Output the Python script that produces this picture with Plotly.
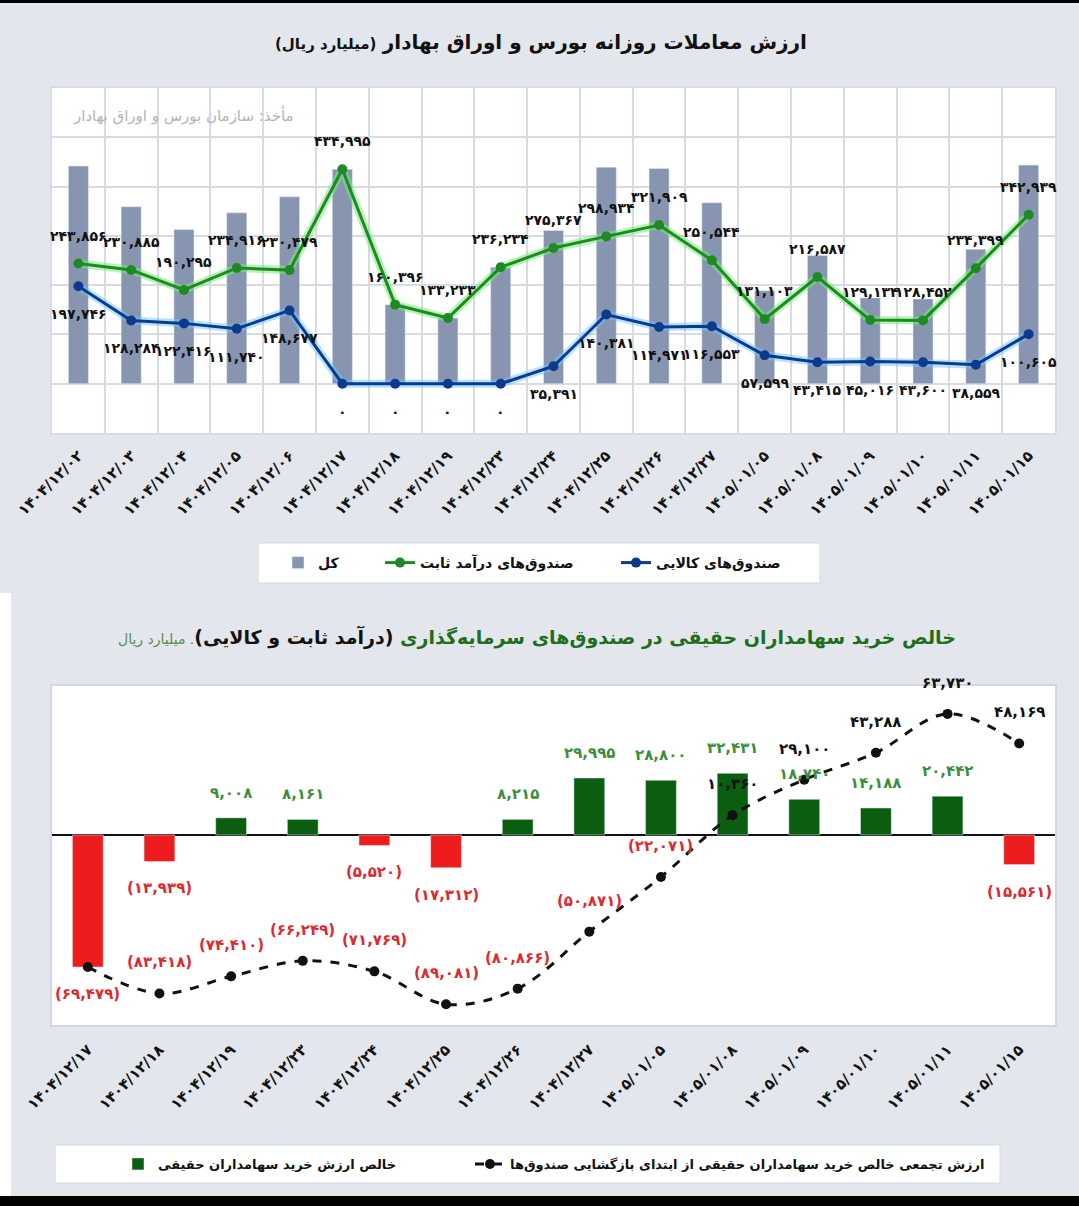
import plotly.graph_objects as go

W, H = 1079, 1206
FONT = "DejaVu Sans"

# ---------------- data: top chart ----------------
dates_top = ["۱۴۰۴/۱۲/۰۲", "۱۴۰۴/۱۲/۰۳", "۱۴۰۴/۱۲/۰۴", "۱۴۰۴/۱۲/۰۵", "۱۴۰۴/۱۲/۰۶",
             "۱۴۰۴/۱۲/۱۷", "۱۴۰۴/۱۲/۱۸", "۱۴۰۴/۱۲/۱۹", "۱۴۰۴/۱۲/۲۳", "۱۴۰۴/۱۲/۲۴",
             "۱۴۰۴/۱۲/۲۵", "۱۴۰۴/۱۲/۲۶", "۱۴۰۴/۱۲/۲۷", "۱۴۰۵/۰۱/۰۵", "۱۴۰۵/۰۱/۰۸",
             "۱۴۰۵/۰۱/۰۹", "۱۴۰۵/۰۱/۱۰", "۱۴۰۵/۰۱/۱۱", "۱۴۰۵/۰۱/۱۵"]
fixed_income = [243856, 230885, 190295, 234916, 230479, 434995, 160396, 133233, 236234, 275367,
                298934, 321909, 250544, 131103, 216587, 129134, 128452, 234399, 342939]
commodity = [197746, 128284, 122416, 111740, 148677, 0, 0, 0, 0, 35391,
             140381, 114971, 116553, 57599, 43415, 45016, 43600, 38559, 100605]
total = [441602, 359169, 312711, 346656, 379156, 434995, 160396, 133233, 236234, 310758,
         439315, 436880, 367097, 188702, 260002, 174150, 172052, 272958, 443544]

# ---------------- data: bottom chart ----------------
dates_bottom = ["۱۴۰۴/۱۲/۱۷", "۱۴۰۴/۱۲/۱۸", "۱۴۰۴/۱۲/۱۹", "۱۴۰۴/۱۲/۲۳", "۱۴۰۴/۱۲/۲۴",
                "۱۴۰۴/۱۲/۲۵", "۱۴۰۴/۱۲/۲۶", "۱۴۰۴/۱۲/۲۷", "۱۴۰۵/۰۱/۰۵", "۱۴۰۵/۰۱/۰۸",
                "۱۴۰۵/۰۱/۰۹", "۱۴۰۵/۰۱/۱۰", "۱۴۰۵/۰۱/۱۱", "۱۴۰۵/۰۱/۱۵"]
net_buy = [-69479, -13939, 9008, 8161, -5520, -17312, 8215, 29995, 28800, 32431,
           18740, 14188, 20442, -15561]
cumulative = [-69479, -83418, -74410, -66249, -71769, -89081, -80866, -50871, -22071, 10360,
              29100, 43288, 63730, 48169]

title_top = "ارزش معاملات روزانه بورس و اوراق بهادار"
title_top_unit = "(میلیارد ریال)"
source_text = "مأخذ: سازمان بورس و اوراق بهادار"
name_total = "کل"
name_fixed = "صندوق‌های درآمد ثابت"
name_comm = "صندوق‌های کالایی"
title_bot_a = "خالص خرید سهامداران حقیقی در صندوق‌های سرمایه‌گذاری"
title_bot_b = "(درآمد ثابت و کالایی)"
title_bot_c = ". میلیارد ریال"
name_net = "خالص ارزش خرید سهامداران حقیقی"
name_cum = "ارزش تجمعی خالص خرید سهامداران حقیقی از ابتدای بازگشایی صندوق‌ها"

fa = str.maketrans("0123456789", "۰۱۲۳۴۵۶۷۸۹")


def fmt(v):
    s = f"{abs(v):,}".translate(fa)
    return f"({s})" if v < 0 else s


def px_y(p):
    return 1 - p / H


def px_x(p):
    return p / W


GREEN = "#1f8a24"
BLUE = "#0d3a8c"
BARC = "#8795b0"
GRID = "#d8dbe1"

fig = go.Figure()

# ---- top chart traces ----
fig.add_trace(go.Bar(x=dates_top, y=total, name=name_total, marker_color=BARC, width=0.38,
                     xaxis="x", yaxis="y", legend="legend"))
fig.add_trace(go.Scatter(x=dates_top, y=fixed_income, mode="lines", showlegend=False,
                         line=dict(color="rgba(120,235,120,0.55)", width=8), hoverinfo="skip",
                         xaxis="x", yaxis="y"))
fig.add_trace(go.Scatter(x=dates_top, y=commodity, mode="lines", showlegend=False,
                         line=dict(color="rgba(110,200,255,0.5)", width=8), hoverinfo="skip",
                         xaxis="x", yaxis="y"))
fig.add_trace(go.Scatter(x=dates_top, y=fixed_income, mode="lines+markers", name=name_fixed,
                         line=dict(color=GREEN, width=3), marker=dict(color=GREEN, size=10),
                         xaxis="x", yaxis="y", legend="legend3"))
fig.add_trace(go.Scatter(x=dates_top, y=commodity, mode="lines+markers", name=name_comm,
                         line=dict(color=BLUE, width=3), marker=dict(color=BLUE, size=10),
                         xaxis="x", yaxis="y", legend="legend4"))

# ---- bottom chart traces ----
fig.add_trace(go.Bar(x=dates_bottom, y=[v if v > 0 else None for v in net_buy], name=name_net,
                     marker_color="#0b5e10", width=0.43, xaxis="x2", yaxis="y2", legend="legend2"))
fig.add_trace(go.Bar(x=dates_bottom, y=[v if v < 0 else None for v in net_buy], showlegend=False,
                     marker_color="#ee1c1c", width=0.43, xaxis="x2", yaxis="y2"))
fig.add_trace(go.Scatter(x=dates_bottom, y=cumulative, mode="lines+markers", name=name_cum,
                         line=dict(color="#111111", width=3, dash="dash", shape="spline", smoothing=1.0),
                         marker=dict(color="#111111", size=10),
                         xaxis="x2", yaxis="y2", legend="legend5"))

ann = []
# title top
ann.append(dict(xref="paper", yref="paper", x=px_x(541), y=px_y(42), xanchor="center", yanchor="middle",
                showarrow=False,
                text=f"<b>{title_top}</b> <span style='font-size:15px'><b>{title_top_unit}</b></span>",
                font=dict(family=FONT, size=20, color="#111111")))
# source
ann.append(dict(xref="paper", yref="paper", x=px_x(296), y=px_y(115), xanchor="right", yanchor="middle",
                showarrow=False, text=source_text, font=dict(family=FONT, size=15, color="#b4b4b4")))
# bottom title
ann.append(dict(xref="paper", yref="paper", x=px_x(958), y=px_y(637), xanchor="right", yanchor="middle",
                showarrow=False,
                text=(f"<b><span style='color:#1d6e1d'>{title_bot_a}</span> "
                      f"<span style='color:#111111'>{title_bot_b}</span></b>"
                      f"<span style='color:#5e8a50;font-size:14px'>{title_bot_c}</span>"),
                font=dict(family=FONT, size=19, color="#1d6e1d")))

LBL = 14
# top data labels
for d, v in zip(dates_top, fixed_income):
    ann.append(dict(x=d, y=v, xref="x", yref="y", text=fmt(v), showarrow=False, yshift=28,
                    font=dict(family=FONT, size=LBL, color="#111111", weight="bold")))
for d, v in zip(dates_top, commodity):
    ann.append(dict(x=d, y=v, xref="x", yref="y", text=fmt(v), showarrow=False, yshift=-28,
                    font=dict(family=FONT, size=LBL, color="#111111", weight="bold")))

# bottom data labels
for d, v in zip(dates_bottom, net_buy):
    ann.append(dict(x=d, y=v, xref="x2", yref="y2", text=fmt(v), showarrow=False,
                    yshift=25 if v > 0 else -27,
                    font=dict(family=FONT, size=15, color="#3c8d3c" if v > 0 else "#e0282f",
                              weight="bold")))
for d, c, v in zip(dates_bottom, cumulative, net_buy):
    if c == v:
        continue
    ann.append(dict(x=d, y=c, xref="x2", yref="y2", text=fmt(c), showarrow=False, yshift=31,
                    font=dict(family=FONT, size=15, color="#111111" if c > 0 else "#e0282f",
                              weight="bold")))

shapes = [
    dict(type="rect", xref="paper", yref="paper", x0=0, x1=1, y0=px_y(1206), y1=px_y(1196),
         fillcolor="#000000", line=dict(width=0), layer="above"),
    dict(type="rect", xref="paper", yref="paper", x0=0, x1=1, y0=px_y(3), y1=px_y(0),
         fillcolor="#000000", line=dict(width=0), layer="above"),
    dict(type="rect", xref="paper", yref="paper", x0=0, x1=px_x(11), y0=px_y(1196), y1=px_y(593),
         fillcolor="#ffffff", line=dict(width=0), layer="below"),
    # legend boxes
    dict(type="rect", xref="paper", yref="paper", x0=px_x(258), x1=px_x(820), y0=px_y(583), y1=px_y(543),
         fillcolor="#ffffff", line=dict(width=1, color="#d5d8de"), layer="below"),
    dict(type="rect", xref="paper", yref="paper", x0=px_x(55), x1=px_x(1000), y0=px_y(1183), y1=px_y(1145),
         fillcolor="#ffffff", line=dict(width=1, color="#d5d8de"), layer="below"),
]

tickfont = dict(family=FONT, size=15, color="#111111", weight="bold")


def leg(xp, yp, size):
    return dict(orientation="h", x=px_x(xp), xanchor="left", y=px_y(yp), yanchor="middle",
                bgcolor="rgba(0,0,0,0)", borderwidth=0,
                font=dict(family=FONT, size=size, color="#111111", weight="bold"))


fig.update_layout(
    width=W, height=H,
    margin=dict(l=0, r=0, t=0, b=0, autoexpand=False),
    paper_bgcolor="#e3e6ec",
    plot_bgcolor="#ffffff",
    font=dict(family=FONT, color="#111111"),
    barmode="overlay",
    annotations=ann,
    shapes=shapes,
    xaxis=dict(domain=[px_x(52), px_x(1055)], type="category", tickson="boundaries",
               range=[-0.5, len(dates_top) - 0.5], autorange=False, automargin=False,
               showgrid=True, gridcolor=GRID, gridwidth=2, ticks="", tickangle=-45,
               tickfont=tickfont, showline=True, linecolor=GRID, linewidth=2, mirror=True,
               anchor="y", ticklabelstandoff=6),
    yaxis=dict(domain=[px_y(433), px_y(88)], range=[-100000, 600000], dtick=100000, automargin=False,
               showgrid=True, gridcolor=GRID, gridwidth=2, zeroline=False, showticklabels=False,
               showline=True, linecolor=GRID, linewidth=2, mirror=True, anchor="x"),
    xaxis2=dict(domain=[px_x(52), px_x(1055)], type="category", showgrid=False, ticks="",
                range=[-0.5, len(dates_bottom) - 0.5], autorange=False, automargin=False,
                tickangle=-45, tickfont=tickfont, showline=True, linecolor="#d3d6dc", linewidth=2,
                mirror=True, anchor="y2", ticklabelstandoff=8),
    yaxis2=dict(domain=[px_y(1025), px_y(686)], range=[-100000, 78400], showgrid=False, automargin=False,
                zeroline=True, zerolinecolor="#111111", zerolinewidth=2, showticklabels=False,
                showline=True, linecolor="#d3d6dc", linewidth=2, mirror=True, anchor="x2"),
    legend=leg(278, 563, 14),
    legend3=leg(380, 563, 14),
    legend4=leg(616, 563, 14),
    legend2=leg(118, 1164, 13),
    legend5=leg(470, 1164, 13),
)

fig.write_html("out.html", config={"displayModeBar": False},
               post_script="document.body.style.margin='0';document.body.style.overflow='hidden';")
